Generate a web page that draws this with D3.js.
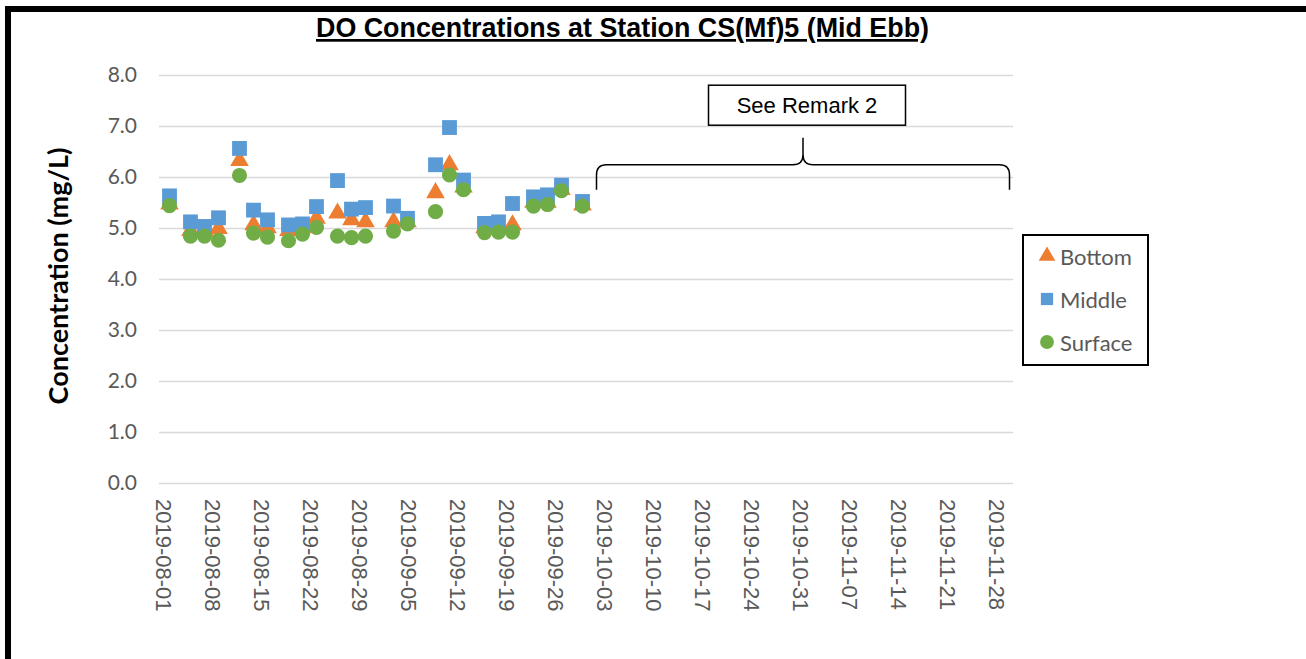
<!DOCTYPE html>
<html>
<head>
<meta charset="utf-8">
<script src="https://cdn.jsdelivr.net/npm/d3@7"></script>
<style>
  html, body { margin: 0; padding: 0; background: #fff; }
  svg { display: block; }
</style>
</head>
<body>
<svg id="chart" width="1306" height="659"></svg>
<script>
// ---- data ----
const dates = ["2019-08-02","2019-08-05","2019-08-07","2019-08-09","2019-08-12","2019-08-14","2019-08-16","2019-08-19","2019-08-21","2019-08-23","2019-08-26","2019-08-28","2019-08-30","2019-09-03","2019-09-05","2019-09-09","2019-09-11","2019-09-13","2019-09-16","2019-09-18","2019-09-20","2019-09-23","2019-09-25","2019-09-27","2019-09-30"];
const bottomValues  = [5.47,4.95,4.95,4.99,6.32,5.06,5.00,4.95,5.00,5.19,5.29,5.16,5.12,5.12,5.12,5.69,6.24,5.80,5.00,5.00,5.06,5.50,5.50,5.75,5.45];
const middleValues  = [5.63,5.12,5.03,5.20,6.56,5.35,5.16,5.06,5.08,5.42,5.93,5.37,5.40,5.43,5.19,6.24,6.97,5.94,5.09,5.12,5.48,5.61,5.65,5.84,5.52];
const surfaceValues = [5.44,4.84,4.84,4.76,6.03,4.90,4.82,4.75,4.88,5.01,4.84,4.81,4.84,4.94,5.08,5.32,6.04,5.75,4.91,4.92,4.92,5.43,5.46,5.73,5.43];
const seriesNames = ["Bottom","Middle","Surface"];
const xTickLabels = ["2019-08-01","2019-08-08","2019-08-15","2019-08-22","2019-08-29","2019-09-05","2019-09-12","2019-09-19","2019-09-26","2019-10-03","2019-10-10","2019-10-17","2019-10-24","2019-10-31","2019-11-07","2019-11-14","2019-11-21","2019-11-28"];
const yTicks = [0,1,2,3,4,5,6,7,8];
const xDomain = ["2019-07-31T12:00","2019-11-30T12:00"];
const remarkSpan = ["2019-10-02","2019-11-30"];
const remarkText = "See Remark 2";
const titleText = "DO Concentrations at Station CS(Mf)5 (Mid Ebb)";
const yTitle = "Concentration (mg/L)";

// ---- setup ----
const parseDay = d3.utcParse("%Y-%m-%d");
const parseTime = d3.utcParse("%Y-%m-%dT%H:%M");
const svg = d3.select("#chart");
const W = 1306, H = 659;
const plot = { left: 159, right: 1013, top: 75, bottom: 483 };

const x = d3.scaleUtc().domain(xDomain.map(parseTime)).range([plot.left, plot.right]);
const y = d3.scaleLinear().domain([0, 8]).range([plot.bottom, plot.top]);

const colors = { Bottom: "#ED7D31", Middle: "#5B9BD5", Surface: "#70AD47" };
const symbols = { Bottom: d3.symbolTriangle, Middle: d3.symbolSquare, Surface: d3.symbolCircle };
const symbolSizes = { Bottom: 150, Middle: 220, Surface: 180 };

// frame
svg.append("rect").attr("x", 5).attr("y", 6).attr("width", W - 5).attr("height", 6).attr("fill", "#000");
svg.append("rect").attr("x", 5).attr("y", 6).attr("width", 6).attr("height", H - 6).attr("fill", "#000");

// title
svg.append("text")
  .attr("x", 316).attr("y", 37)
  .attr("textLength", 613)
  .attr("lengthAdjust", "spacingAndGlyphs")
  .attr("font-family", "'Liberation Sans', Arial, sans-serif")
  .attr("font-weight", "bold")
  .attr("font-size", 27)
  .attr("text-decoration", "underline")
  .attr("fill", "#000")
  .text(titleText);

// grid + y axis
const yAxis = d3.axisLeft(y).tickValues(yTicks).tickFormat(d3.format(".1f"))
  .tickSize(-(plot.right - plot.left)).tickPadding(22);
const gy = svg.append("g").attr("transform", `translate(${plot.left},0)`).call(yAxis);
gy.select(".domain").remove();
gy.selectAll(".tick line").attr("stroke", "#D9D9D9").attr("stroke-width", 1.5);
gy.selectAll(".tick text")
  .attr("font-family", "Lato, 'Open Sans', sans-serif")
  .attr("font-size", 21)
  .attr("fill", "#595959");

// x axis
const xAxis = d3.axisBottom(x).tickValues(xTickLabels.map(parseDay))
  .tickFormat(d3.utcFormat("%Y-%m-%d")).tickSize(0);
const gx = svg.append("g").attr("transform", `translate(0,${plot.bottom})`).call(xAxis);
gx.select(".domain").remove();
gx.selectAll(".tick text")
  .attr("font-family", "'Liberation Sans', Arial, sans-serif")
  .attr("font-size", 22)
  .attr("fill", "#595959")
  .attr("text-anchor", "start")
  .attr("dy", null)
  .attr("dominant-baseline", "central")
  .attr("transform", "translate(0,16) rotate(90)")
  .attr("x", 0).attr("y", 0);

// y title
svg.append("text")
  .attr("transform", `translate(57,${(148 + 404) / 2}) rotate(-90)`)
  .attr("text-anchor", "middle")
  .attr("dominant-baseline", "central")
  .attr("font-family", "Lato, 'Open Sans', sans-serif")
  .attr("font-weight", "bold")
  .attr("font-size", 27)
  .attr("fill", "#000")
  .text(yTitle);

// data points
const seriesData = {
  Bottom: bottomValues,
  Middle: middleValues,
  Surface: surfaceValues
};
seriesNames.forEach(name => {
  const pts = dates.map((d, i) => ({ date: parseDay(d), v: seriesData[name][i] }));
  svg.append("g").selectAll("path").data(pts).join("path")
    .attr("d", d3.symbol().type(symbols[name]).size(symbolSizes[name]))
    .attr("transform", d => `translate(${x(d.date)},${y(d.v)})`)
    .attr("fill", colors[name]);
});

// remark box + brace
const bx0 = x(parseDay(remarkSpan[0])), bx1 = x(parseDay(remarkSpan[1]));
const bmid = (bx0 + bx1) / 2;
const yBot = y(5.75), yH = y(6.24), yTip = y(6.77);
const r = 10;
const brace = `M${bx0},${yBot} L${bx0},${yH + r} Q${bx0},${yH} ${bx0 + r},${yH} L${bmid - r},${yH} Q${bmid},${yH} ${bmid},${yH - r} L${bmid},${yTip}
 M${bmid},${yH - r} Q${bmid},${yH} ${bmid + r},${yH} L${bx1 - r},${yH} Q${bx1},${yH} ${bx1},${yH + r} L${bx1},${yBot}`;
svg.append("path").attr("d", brace).attr("fill", "none").attr("stroke", "#000").attr("stroke-width", 1.5);

const boxW = 197, boxH = 40;
svg.append("rect")
  .attr("x", bmid - boxW / 2 + 4).attr("y", y(7.8))
  .attr("width", boxW).attr("height", boxH)
  .attr("fill", "#fff").attr("stroke", "#000").attr("stroke-width", 1.5);
svg.append("text")
  .attr("x", bmid + 4).attr("y", y(7.8) + boxH / 2)
  .attr("text-anchor", "middle").attr("dominant-baseline", "central")
  .attr("font-family", "'Liberation Sans', Arial, sans-serif")
  .attr("font-size", 22).attr("fill", "#000")
  .text(remarkText);

// legend
const lg = svg.append("g").attr("transform", "translate(1023,235)");
lg.append("rect").attr("width", 125).attr("height", 130)
  .attr("fill", "#fff").attr("stroke", "#000").attr("stroke-width", 2);
seriesNames.forEach((name, i) => {
  const cy = 21 + i * 43;
  lg.append("path")
    .attr("d", d3.symbol().type(symbols[name]).size(name === "Bottom" ? 120 : 150))
    .attr("transform", `translate(24,${cy})`)
    .attr("fill", colors[name]);
  lg.append("text")
    .attr("x", 37).attr("y", cy)
    .attr("dominant-baseline", "central")
    .attr("font-family", "Lato, 'Open Sans', sans-serif")
    .attr("font-size", 22)
    .attr("fill", "#595959")
    .text(name);
});
</script>
</body>
</html>
